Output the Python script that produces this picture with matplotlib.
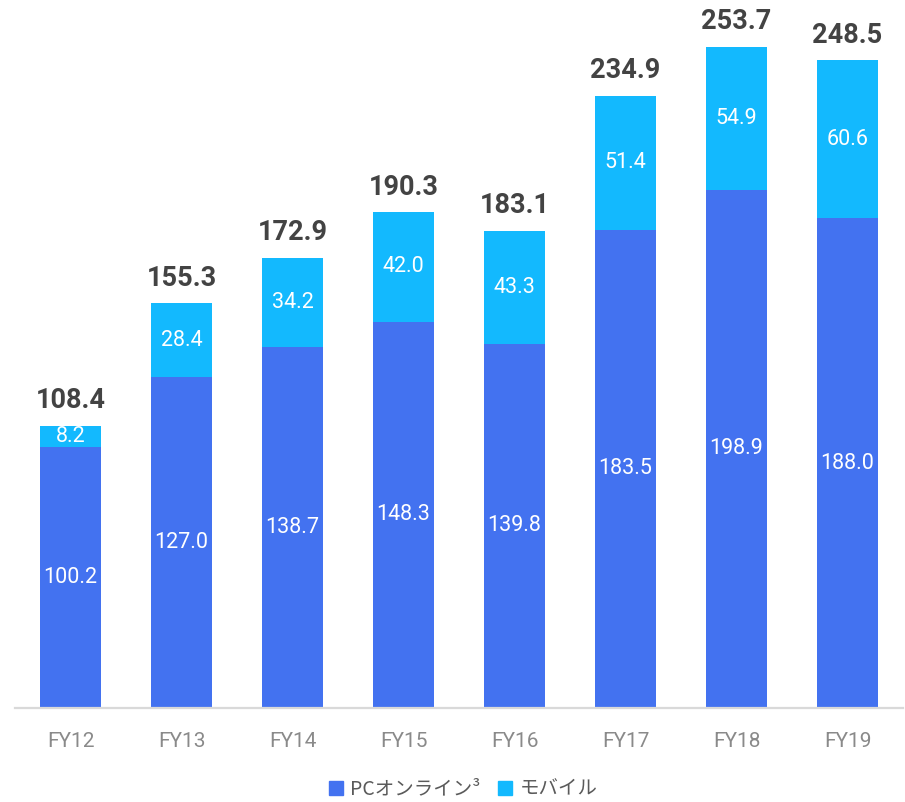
import matplotlib

matplotlib.use("Agg")

import matplotlib.pyplot as plt
import numpy as np
from matplotlib.patches import Patch


YEARS = ["FY12", "FY13", "FY14", "FY15", "FY16", "FY17", "FY18", "FY19"]
PC_ONLINE = [100.2, 127.0, 138.7, 148.3, 139.8, 183.5, 198.9, 188.0]
MOBILE = [8.2, 28.4, 34.2, 42.0, 43.3, 51.4, 54.9, 60.6]
TOTALS = [108.4, 155.3, 172.9, 190.3, 183.1, 234.9, 253.7, 248.5]
SERIES_NAMES = ["PCオンライン³", "モバイル"]


def main() -> None:
    colors = {
        "pc": "#4372F0",
        "mobile": "#13B9FE",
        "total": "#434343",
        "tick": "#8A8A8A",
        "legend": "#5A5A5A",
        "axis": "#D9D9D9",
    }

    plt.rcParams["font.family"] = ["Roboto", "Noto Sans CJK JP", "DejaVu Sans"]

    fig = plt.figure(figsize=(9.05, 8.02), dpi=100)
    ax = fig.add_axes([15 / 905, 1 - 708 / 802, 888 / 905, 703.4 / 802])

    x = np.arange(len(YEARS))
    width = 0.55
    pc = np.array(PC_ONLINE)
    mob = np.array(MOBILE)

    ax.bar(x, pc, width, color=colors["pc"], zorder=2)
    ax.bar(x, mob, width, bottom=pc, color=colors["mobile"], zorder=2)

    for xi, p, m, t in zip(x, pc, mob, TOTALS):
        ax.text(xi, p / 2, f"{p:.1f}", ha="center", va="center",
                fontsize=15.5, color="white")
        ax.text(xi, p + m / 2, f"{m:.1f}", ha="center", va="center",
                fontsize=15.5, color="white")
        ax.text(xi, t + 4.5, f"{t:.1f}", ha="center", va="bottom",
                fontsize=19.5, fontweight="bold", color=colors["total"])

    ax.set_xlim(-0.5, len(YEARS) - 0.5)
    ax.set_ylim(0, 270)
    ax.set_xticks(x)
    ax.set_xticklabels(YEARS, fontsize=15, color=colors["tick"])
    ax.tick_params(axis="x", length=0, pad=17)
    ax.set_yticks([])
    for side in ["top", "right", "left"]:
        ax.spines[side].set_visible(False)
    ax.spines["bottom"].set_color(colors["axis"])
    ax.spines["bottom"].set_linewidth(1.6)
    ax.spines["bottom"].set_zorder(3)

    handles = [Patch(color=colors["pc"]), Patch(color=colors["mobile"])]
    fig.legend(
        handles,
        SERIES_NAMES,
        loc="center",
        bbox_to_anchor=(0.512, 1 - 789 / 802),
        ncol=2,
        frameon=False,
        prop={"family": ["Noto Sans CJK JP", "DejaVu Sans"], "size": 14},
        labelcolor=colors["legend"],
        handlelength=0.72,
        handleheight=0.72,
        handletextpad=0.4,
        columnspacing=0.9,
    )

    fig.savefig("out.png", dpi=100)


if __name__ == "__main__":
    main()
